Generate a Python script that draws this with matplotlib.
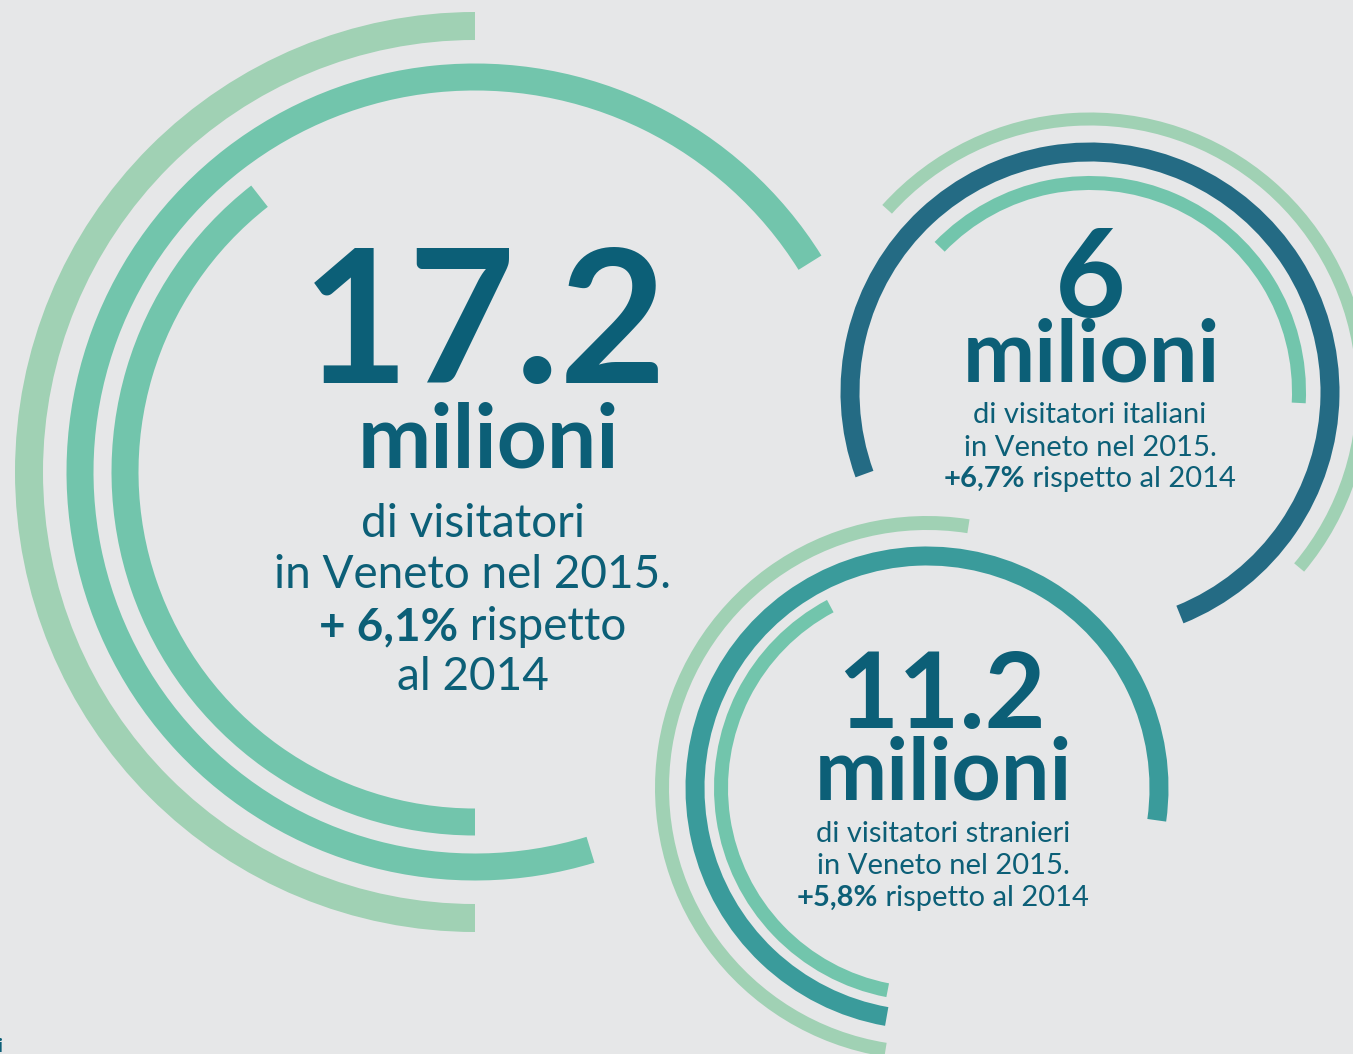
import matplotlib
matplotlib.use("Agg")
import matplotlib.pyplot as plt
from matplotlib.patches import Wedge

# data
groups = ["totale", "italiani", "stranieri"]
visitors_mln = [17.2, 6, 11.2]
change_pct = ["6,1", "6,7", "5,8"]
subtitles = [["di visitatori", "in Veneto nel 2015."],
             ["di visitatori italiani", "in Veneto nel 2015."],
             ["di visitatori stranieri", "in Veneto nel 2015."]]

# style
BG = "#e6e7e8"
TXT = "#0c5f77"
LIGHT = "#a0d1b4"
MINT = "#72c5ac"
DARK = "#246b84"
TEAL = "#3a9b9b"
FONT = ["Lato", "DejaVu Sans"]
BODY = "normal"

W, H = 1353, 1054

# arcs: (cx, cy) in pixel coords from top-left, then rings (radius, width, start, end, colour)
rings = {
    "totale": ((475, 472), [(446, 28, 90, 270, LIGHT),
                            (395, 27, 32, 287, MINT),
                            (350, 27, 128, 270, MINT)]),
    "italiani": ((1090, 392), [(273, 13, -40, 138, LIGHT),
                               (240, 19, -68, 200, DARK),
                               (209, 14, -3, 136, MINT)]),
    "stranieri": ((927, 788), [(265, 14, 81, 261, LIGHT),
                               (232, 19, -8, 260, TEAL),
                               (206, 14, 118, 259, MINT)]),
}

fig = plt.figure(figsize=(W / 100, H / 100), dpi=100)
fig.patch.set_facecolor(BG)
ax = fig.add_axes([0, 0, 1, 1])
ax.set_xlim(0, W)
ax.set_ylim(0, H)
ax.axis("off")

for g in groups:
    (cx, cy), rr = rings[g]
    for r, w, a1, a2, col in rr:
        ax.add_patch(Wedge((cx, H - cy), r + w / 2, a1, a2, width=w, color=col, lw=0))

renderer = fig.canvas.get_renderer()


def line(parts, cx, y, size):
    objs = []
    for s, wt in parts:
        objs.append(ax.text(0, H - y, s, fontsize=size, fontweight=wt, color=TXT,
                            ha="left", va="baseline", family=FONT))
    widths = [o.get_window_extent(renderer).width for o in objs]
    x = cx - sum(widths) / 2
    for o, w in zip(objs, widths):
        o.set_x(x)
        x += w


# big block (left)
line([(f"{visitors_mln[0]:g}", "bold")], 485, 383, 133)
line([("milioni", "bold")], 488, 468, 63)
line([(subtitles[0][0], BODY)], 473, 537, 33)
line([(subtitles[0][1], BODY)], 473, 588, 33)
line([(f"+ {change_pct[0]}%", "bold"), (" rispetto", BODY)], 473, 640, 33)
line([("al 2014", BODY)], 473, 690, 33)

# italiani
line([(f"{visitors_mln[1]:g}", "bold")], 1090, 317, 88)
line([("milioni", "bold")], 1091, 381, 62)
line([(subtitles[1][0], BODY)], 1090, 423, 21)
line([(subtitles[1][1], BODY)], 1090, 456, 21)
line([(f"+{change_pct[1]}%", "bold"), (" rispetto al 2014", BODY)], 1090, 487, 21)

# stranieri
line([(f"{visitors_mln[2]:g}", "bold")], 941, 728, 76)
line([("milioni", "bold")], 943, 800, 62)
line([(subtitles[2][0], BODY)], 943, 842, 21)
line([(subtitles[2][1], BODY)], 943, 874, 21)
line([(f"+{change_pct[2]}%", "bold"), (" rispetto al 2014", BODY)], 943, 906, 21)

# cut-off mark bottom-left
ax.text(-3, 2, "i", fontsize=14, fontweight="bold", color=TXT, family=FONT,
        ha="left", va="baseline")

fig.savefig("out.png", dpi=100, facecolor=BG)
